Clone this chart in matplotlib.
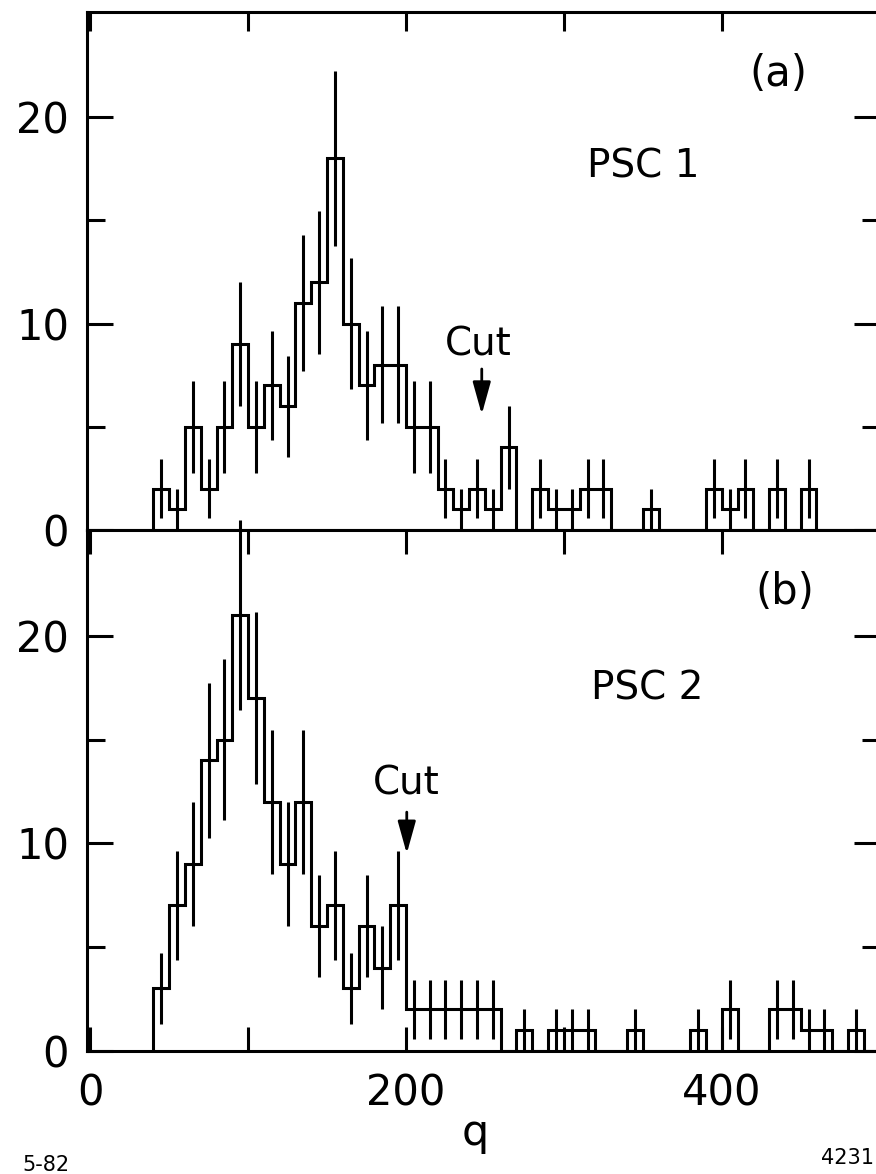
import numpy as np
import matplotlib
matplotlib.use('Agg')
import matplotlib.pyplot as plt

# bins of width 10 in q, from 40 to 500
edges = np.arange(40, 501, 10)

# PSC 1 (a)
counts_a = [2, 1, 5, 2, 5, 9, 5, 7, 6, 11, 12, 18, 10, 7, 8, 8, 5, 5, 2, 1,
            2, 1, 4, 0, 2, 1, 1, 2, 2, 0, 0, 1, 0, 0, 0, 2, 1, 2, 0, 2,
            0, 2, 0, 0, 0, 0]
# PSC 2 (b)
counts_b = [3, 7, 9, 14, 15, 21, 17, 12, 9, 12, 6, 7, 3, 6, 4, 7, 2, 2, 2, 2,
            2, 2, 0, 1, 0, 1, 1, 1, 0, 0, 1, 0, 0, 0, 1, 0, 2, 0, 0, 2,
            2, 1, 1, 0, 1, 0]

x_labels = [0, 200, 400]
x_minor = [100, 300]
y_labels = [0, 10, 20]
y_minor = [5, 15]

LW = 2.2

fig = plt.figure(figsize=(8.76, 11.74), dpi=100)
ax_a = fig.add_axes([0.0994, 0.5486, 0.9047, 0.4412])
ax_b = fig.add_axes([0.0994, 0.1050, 0.9047, 0.4436])


def draw_panel(ax, counts):
    counts = np.array(counts, dtype=float)
    centers = (edges[:-1] + edges[1:]) / 2
    ax.stairs(counts, edges, color='black', lw=LW)
    nz = counts > 0
    err = np.sqrt(counts[nz])
    ax.vlines(centers[nz], counts[nz] - err, counts[nz] + err,
              color='black', lw=LW, clip_on=False)

    ax.set_xlim(-2, 500)
    ax.set_ylim(0, 25.1)
    ax.set_xticks(x_labels)
    ax.set_xticks(x_minor, minor=True)
    ax.set_yticks(y_labels)
    ax.set_yticks(y_minor, minor=True)
    ax.tick_params(axis='x', which='both', direction='in', length=14,
                   width=LW, top=True, labelsize=30, pad=16)
    ax.tick_params(axis='y', which='major', direction='in', length=18.5,
                   width=LW, right=True, labelsize=30, pad=13)
    ax.tick_params(axis='y', which='minor', direction='in', length=13,
                   width=LW, right=True)
    for s in ax.spines.values():
        s.set_linewidth(LW)


draw_panel(ax_a, counts_a)
draw_panel(ax_b, counts_b)

ax_a.tick_params(axis='x', which='both', bottom=False, labelbottom=False)
ax_b.tick_params(axis='x', which='both', length=17)

# labels and cuts
ax_a.text(436, 22.1, '(a)', fontsize=30, ha='center', va='center')
ax_a.text(350, 17.6, 'PSC 1', fontsize=28, ha='center', va='center')
ax_a.text(246, 9.0, 'Cut', fontsize=28, ha='center', va='center')
ax_a.annotate('', xy=(248, 5.6), xytext=(248, 7.8),
              arrowprops=dict(arrowstyle='-|>,head_length=0.9,head_width=0.25',
                              color='black', lw=2, mutation_scale=22,
                              shrinkA=0, shrinkB=0))

ax_b.text(440, 22.1, '(b)', fontsize=30, ha='center', va='center')
ax_b.text(353, 17.45, 'PSC 2', fontsize=28, ha='center', va='center')
ax_b.text(200, 12.9, 'Cut', fontsize=28, ha='center', va='center')
ax_b.annotate('', xy=(200.5, 9.5), xytext=(200.5, 11.5),
              arrowprops=dict(arrowstyle='-|>,head_length=0.9,head_width=0.25',
                              color='black', lw=2, mutation_scale=22,
                              shrinkA=0, shrinkB=0))

fig.text(0.543, 0.0349, 'q', fontsize=31, ha='center', va='center')
fig.text(0.025, 0.008, '5-82', fontsize=15, ha='left', va='center')
fig.text(0.998, 0.0136, '4231', fontsize=15, ha='right', va='center')

fig.savefig('out.png', dpi=100)
